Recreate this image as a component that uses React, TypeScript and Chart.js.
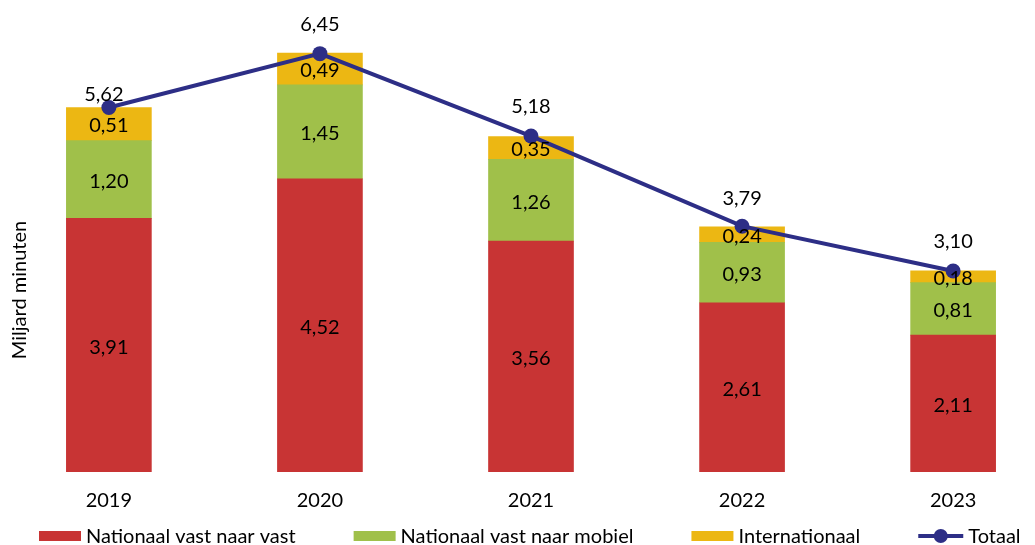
import React, { useEffect, useRef } from 'react';
import { Chart, registerables } from 'chart.js';

Chart.register(...registerables);

const years = ['2019', '2020', '2021', '2022', '2023'];
const vastNaarVast = [3.91, 4.52, 3.56, 2.61, 2.11];
const vastNaarMobiel = [1.2, 1.45, 1.26, 0.93, 0.81];
const internationaal = [0.51, 0.49, 0.35, 0.24, 0.18];
const totaal = [5.62, 6.45, 5.18, 3.79, 3.1];
const seriesNames = ['Nationaal vast naar vast', 'Nationaal vast naar mobiel', 'Internationaal', 'Totaal'];
const yTitle = 'Miljard minuten';

const COLORS = ['#C83434', '#A0C04A', '#ECB713', '#2D2E86'];
const FONT = 'Lato, "Open Sans", sans-serif';
const FS = 20;

const fmt = (v: number) => v.toFixed(2).replace('.', ',');

const customPlugin = {
  id: 'customLabels',
  afterDatasetsDraw(chart: any, _args: any, opts: any) {
    const ctx = chart.ctx;
    ctx.save();
    ctx.font = `${FS}px ${FONT}`;
    ctx.fillStyle = '#000';
    ctx.textAlign = 'center';
    ctx.textBaseline = 'middle';
    for (let d = 0; d < 3; d++) {
      const meta = chart.getDatasetMeta(d);
      meta.data.forEach((el: any, i: number) => {
        const p = el.getProps(['x', 'y', 'base'], true);
        const v = chart.data.datasets[d].data[i].y;
        ctx.fillText(fmt(v), p.x, (p.y + p.base) / 2 + 2);
      });
    }
    const lm = chart.getDatasetMeta(3);
    lm.data.forEach((pt: any, i: number) => {
      const off = opts.totalOffsets[i];
      ctx.fillText(fmt(totaal[i]), pt.x + off[0], pt.y + off[1]);
    });
    ctx.restore();
  },
  afterDraw(chart: any, _args: any, opts: any) {
    const ctx = chart.ctx;
    ctx.save();
    ctx.font = `${FS}px ${FONT}`;
    ctx.fillStyle = '#000';
    ctx.textAlign = 'center';
    ctx.textBaseline = 'middle';
    ctx.translate(opts.titleX, opts.titleY);
    ctx.rotate(-Math.PI / 2);
    ctx.fillText(yTitle, 0, 0);
    ctx.restore();

    ctx.save();
    ctx.font = `${FS}px ${FONT}`;
    ctx.textBaseline = 'middle';
    ctx.textAlign = 'left';
    const y = opts.legendY;
    let x = opts.legendX;
    const boxW = 42;
    seriesNames.forEach((name, i) => {
      if (i < 3) {
        ctx.fillStyle = COLORS[i];
        ctx.fillRect(x, y - 5, boxW, 10);
      } else {
        ctx.strokeStyle = COLORS[3];
        ctx.lineWidth = 4;
        ctx.beginPath();
        ctx.moveTo(x, y);
        ctx.lineTo(x + boxW + 3, y);
        ctx.stroke();
        ctx.fillStyle = COLORS[3];
        ctx.beginPath();
        ctx.arc(x + (boxW + 3) / 2, y, 7, 0, Math.PI * 2);
        ctx.fill();
      }
      ctx.fillStyle = '#000';
      const tx = x + boxW + 5 + (i === 3 ? 3 : 0);
      ctx.fillText(name, tx, y + 1);
      x = tx + ctx.measureText(name).width + opts.legendGap;
    });
    ctx.restore();
  },
};

export default function App() {
  const ref = useRef<HTMLCanvasElement | null>(null);

  useEffect(() => {
    if (!ref.current) return;
    const toXY = (arr: number[]) => arr.map((v, i) => ({ x: i, y: v }));
    const chart = new Chart(ref.current, {
      type: 'bar',
      data: {
        datasets: [
          {
            type: 'bar',
            label: seriesNames[0],
            data: toXY(vastNaarVast),
            backgroundColor: COLORS[0],
            borderWidth: 0,
            barThickness: 85,
            stack: 'bars',
            order: 1,
          },
          {
            type: 'bar',
            label: seriesNames[1],
            data: toXY(vastNaarMobiel),
            backgroundColor: COLORS[1],
            borderWidth: 0,
            barThickness: 85,
            stack: 'bars',
            order: 1,
          },
          {
            type: 'bar',
            label: seriesNames[2],
            data: toXY(internationaal),
            backgroundColor: COLORS[2],
            borderWidth: 0,
            barThickness: 85,
            stack: 'bars',
            order: 1,
          },
          {
            type: 'line',
            label: seriesNames[3],
            data: toXY(totaal),
            borderColor: COLORS[3],
            backgroundColor: COLORS[3],
            borderWidth: 4,
            pointRadius: 7.5,
            pointBackgroundColor: COLORS[3],
            pointBorderWidth: 0,
            tension: 0,
            stack: 'line',
            order: 0,
          },
        ],
      } as any,
      options: {
        animation: false,
        responsive: true,
        maintainAspectRatio: false,
        layout: { padding: { left: 35, right: 8, top: 18, bottom: 15 } },
        scales: {
          x: {
            type: 'linear',
            offset: false,
            min: -0.35,
            max: 4.35,
            stacked: true,
            grid: { display: false, drawTicks: false },
            border: { display: false },
            afterBuildTicks: (scale: any) => {
              scale.ticks = years.map((_, i) => ({ value: i }));
            },
            ticks: {
              autoSkip: false,
              maxRotation: 0,
              padding: 17,
              color: '#000',
              font: { family: FONT, size: FS },
              callback: (v: any) => years[v as number] ?? '',
            },
          },
          y: {
            display: false,
            stacked: true,
            min: 0,
            max: 7,
          },
        },
        plugins: {
          legend: { display: false },
          tooltip: { enabled: false },
          customLabels: {
            totalOffsets: [[-5, -13], [0, -29], [0, -29], [0, -28], [0, -29]],
            titleX: 20,
            titleY: 290,
            legendX: 39,
            legendY: 536,
            legendGap: 58,
          },
        } as any,
      },
      plugins: [customPlugin],
    } as any);
    return () => chart.destroy();
  }, []);

  return (
    <div style={{ position: 'fixed', left: 0, top: 0, width: 1035, height: 545, background: '#fff' }}>
      <canvas ref={ref} />
    </div>
  );
}
